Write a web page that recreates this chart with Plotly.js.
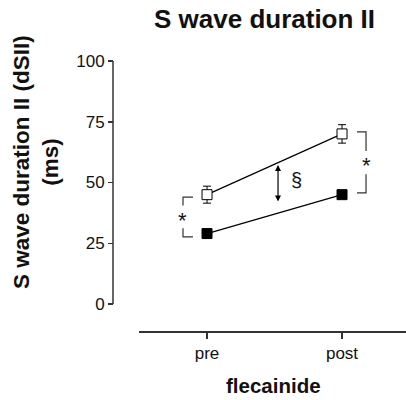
<!DOCTYPE html>
<html><head><meta charset="utf-8">
<script src="https://cdn.plot.ly/plotly-3.0.1.min.js"></script>
<style>html,body{margin:0;padding:0;background:#fff}</style>
</head><body><div id="chart" style="width:406px;height:400px"></div>
<script>
const categories = ["pre", "post"];
const openValues = [45, 70];
const openErrors = [3.5, 3.8];
const filledValues = [29, 45];
const filledErrors = [1.5, 1.5];
const yTickVals = [0, 25, 50, 75, 100];

const FONT = "Liberation Sans, Arial, sans-serif";
const xIdx = categories.map((c, i) => i);

const traces = [
  {
    x: xIdx, y: openValues, type: "scatter", mode: "lines+markers",
    line: {color: "#000", width: 1.2},
    marker: {symbol: "square", size: 10, color: "#fff", line: {color: "#000", width: 1}},
    error_y: {type: "data", array: openErrors, visible: true, color: "#000", thickness: 1, width: 4},
    cliponaxis: false, hoverinfo: "skip"
  },
  {
    x: xIdx, y: filledValues, type: "scatter", mode: "lines+markers",
    line: {color: "#000", width: 1.2},
    marker: {symbol: "square", size: 10, color: "#000", line: {color: "#000", width: 1}},
    error_y: {type: "data", array: filledErrors, visible: true, color: "#000", thickness: 1, width: 4},
    cliponaxis: false, hoverinfo: "skip"
  }
];

const bracketLine = {color: "#333", width: 1.2};

const layout = {
  width: 406, height: 400,
  margin: {l: 113, r: 0, t: 61, b: 69},
  paper_bgcolor: "#fff", plot_bgcolor: "#fff",
  showlegend: false,
  font: {family: FONT, color: "#111"},
  xaxis: {
    domain: [0.0887, 1],
    range: [-0.504, 1.474],
    tickvals: xIdx, ticktext: categories,
    showgrid: false, zeroline: false,
    showline: true, linecolor: "#333", linewidth: 1.5,
    ticks: "outside", ticklen: 6, tickwidth: 1.5, tickcolor: "#333",
    tickfont: {size: 17, family: FONT, color: "#111"},
    fixedrange: true
  },
  yaxis: {
    anchor: "free", position: 0,
    range: [-11.1, 100],
    tickvals: yTickVals,
    showgrid: false, zeroline: false, showline: false,
    ticks: "outside", ticklen: 5, tickwidth: 1.5, tickcolor: "#333",
    tickfont: {size: 17, family: FONT, color: "#111"},
    fixedrange: true
  },
  shapes: [
    {type: "line", xref: "paper", yref: "y", x0: 0, x1: 0, y0: 0, y1: 100,
     line: {color: "#333", width: 1.5}},
    {type: "path", xref: "x", yref: "y",
     path: "M -0.104 44.0 L -0.178 44.0 L -0.178 40.5", line: bracketLine},
    {type: "path", xref: "x", yref: "y",
     path: "M -0.178 31.2 L -0.178 27.6 L -0.104 27.6", line: bracketLine},
    {type: "path", xref: "x", yref: "y",
     path: "M 1.111 70.8 L 1.178 70.8 L 1.178 63.0", line: bracketLine},
    {type: "path", xref: "x", yref: "y",
     path: "M 1.178 53.4 L 1.178 45.7 L 1.111 45.7", line: bracketLine}
  ],
  annotations: [
    {text: "<b>S wave duration II</b>", xref: "paper", yref: "paper",
     x: (264 - 113) / 293, y: 1 + 42 / 270, xanchor: "center", yanchor: "middle",
     showarrow: false, font: {size: 26, family: FONT, color: "#111"}},
    {text: "<b>flecainide</b>", xref: "paper", yref: "paper",
     x: (273 - 113) / 293, y: -54 / 270, xanchor: "center", yanchor: "middle",
     showarrow: false, font: {size: 20.5, family: FONT, color: "#111"}},
    {text: "<b>S wave duration II (dSII)<br>(ms)</b>", xref: "paper", yref: "paper",
     x: (36 - 113) / 293, y: (331 - 162) / 270, xanchor: "center", yanchor: "middle",
     textangle: -90, showarrow: false, font: {size: 22.5, family: FONT, color: "#111"}},
    {text: "", xref: "x", yref: "y", axref: "x", ayref: "y",
     x: 0.526, y: 57.2, ax: 0.526, ay: 41.6,
     showarrow: true, arrowside: "end+start", arrowhead: 2, startarrowhead: 2,
     arrowsize: 1, startarrowsize: 1, arrowwidth: 1.2, arrowcolor: "#000"},
    {text: "§", xref: "x", yref: "y", x: 0.666, y: 51, showarrow: false,
     font: {size: 20, family: FONT, color: "#111"}},
    {text: "*", xref: "x", yref: "y", x: -0.178, y: 34.5, showarrow: false,
     font: {size: 22, family: FONT, color: "#111"}},
    {text: "*", xref: "x", yref: "y", x: 1.183, y: 56.8, showarrow: false,
     font: {size: 22, family: FONT, color: "#111"}}
  ]
};

Plotly.newPlot("chart", traces, layout, {displayModeBar: false, staticPlot: true});
</script></body></html>
